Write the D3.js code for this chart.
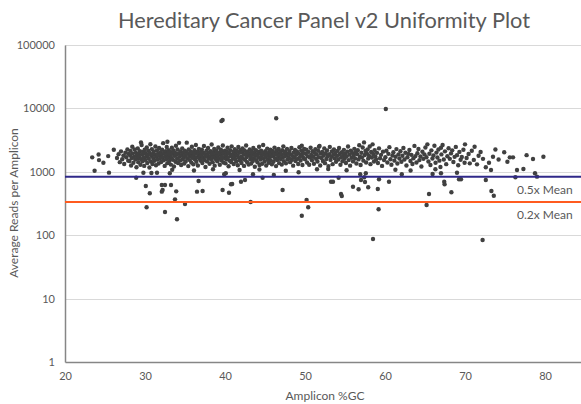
<!DOCTYPE html>
<html>
<head>
<meta charset="utf-8">
<script src="https://cdn.jsdelivr.net/npm/d3@7"></script>
<style>
	body { margin: 0; background: #fff; }
	svg { display: block; font-family: Lato, "Open Sans", sans-serif; }
</style>
</head>
<body>
<div id="chart"></div>
<script>

// GC% / average reads, left of the main band
var leftTail = [
	[23.4,1690],[23.7,1040],[24.2,1870],[24.25,1530],[24.8,1390],[25.4,1770],[25.5,970],[26.1,2230],
	[26.5,1650],[26.7,1900],[26.85,1420],[27.0,2100],[27.15,1580],[27.3,1800],[27.4,1330],[27.55,2000],
	[27.65,1700],[27.8,2250],[27.9,1500],[27.95,1920]
];

// dense band, 28 - 50 %GC
var coreBand = [
	[28.05,1480],[28.12,1820],[28.18,2140],[28.26,1260],[28.33,1650],[28.41,2480],[28.47,1950],[28.55,1390],[28.62,1720],[28.71,2260],[28.78,1560],[28.86,2010],[28.93,1180],[28.97,1840],
	[29.04,1620],[29.1,2330],[29.16,1420],[29.23,1930],[29.3,1710],[29.37,2120],[29.43,1290],[29.5,2900],[29.52,1580],[29.58,2640],[29.64,1870],[29.7,1470],[29.77,2060],[29.83,1680],[29.9,1240],[29.96,2230],
	[30.03,1540],[30.09,1960],[30.15,1750],[30.22,2420],[30.28,1380],[30.35,1830],[30.41,2150],[30.48,1610],[30.55,1170],[30.6,1990],[30.67,2720],[30.74,1450],[30.8,1780],[30.86,2280],[30.93,1330],[30.98,1900],
	[31.05,1640],[31.11,2090],[31.18,1490],[31.24,1850],[31.3,2510],[31.37,1270],[31.43,1720],[31.5,2180],[31.56,1560],[31.63,1940],[31.7,1350],[31.76,2370],[31.82,1800],[31.88,1620],[31.95,2040],
	[32.02,1430],[32.08,1880],[32.14,2230],[32.2,1690],[32.27,2830],[32.33,1520],[32.4,1980],[32.46,1240],[32.53,1760],[32.6,2110],[32.66,1590],[32.72,2460],[32.79,1370],[32.8,2980],[32.85,1910],[32.92,1700],[32.97,2200],
	[33.04,1480],[33.1,1830],[33.17,2060],[33.23,1300],[33.3,1650],[33.36,2390],[33.4,1080],[33.42,1920],[33.49,1550],[33.56,2170],[33.62,1210],[33.68,1780],[33.75,2000],[33.81,1440],[33.87,2580],[33.94,1860],
	[34.01,1610],[34.07,2250],[34.13,1380],[34.2,1950],[34.26,2860],[34.33,1720],[34.39,1500],[34.45,2100],[34.52,1280],[34.58,1840],[34.65,2340],[34.71,1570],[34.78,1990],[34.84,1690],[34.9,1350],[34.96,2150],
	[35.03,1800],[35.09,1460],[35.16,2050],[35.22,2880],[35.28,1620],[35.35,1930],[35.41,1230],[35.47,2260],[35.54,1740],[35.6,1530],[35.66,2120],[35.73,1870],[35.79,1400],[35.86,2480],[35.92,1660],[35.98,1980],
	[36.04,1310],[36.1,1790],[36.12,1050],[36.17,2190],[36.23,1580],[36.3,1950],[36.36,2650],[36.42,1440],[36.49,1700],[36.55,2080],[36.61,1260],[36.68,1890],[36.74,2300],[36.8,1610],[36.87,1770],[36.93,2030],[36.98,1490],
	[37.05,1830],[37.11,2240],[37.17,1380],[37.24,1670],[37.3,2000],[37.37,2550],[37.43,1540],[37.5,1900],[37.56,1190],[37.62,1750],[37.69,2150],[37.75,1460],[37.81,1850],[37.88,2380],[37.94,1640],
	[38.01,1990],[38.07,1340],[38.13,1720],[38.2,2110],[38.26,1560],[38.33,2700],[38.39,1870],[38.46,1420],[38.5,1100],[38.52,2040],[38.58,1680],[38.65,2290],[38.71,1250],[38.77,1810],[38.84,1590],[38.9,2180],[38.96,1950],
	[39.03,1470],[39.09,1760],[39.16,2420],[39.22,1630],[39.28,2010],[39.35,1290],[39.41,1880],[39.48,2230],[39.54,1520],[39.6,1710],[39.67,2090],[39.73,2600],[39.8,1400],[39.86,1930],[39.93,1650],
	[40.0,2160],[40.06,1360],[40.13,1820],[40.19,1570],[40.25,2050],[40.32,2390],[40.38,1690],[40.45,1220],[40.51,1960],[40.58,1500],[40.64,2200],[40.7,1780],[40.77,1430],[40.83,2520],[40.9,1860],[40.96,1610],
	[41.03,2070],[41.09,1330],[41.15,1740],[41.22,2280],[41.28,1590],[41.35,1940],[41.41,1450],[41.48,2130],[41.54,1800],[41.6,1270],[41.67,2460],[41.73,1660],[41.8,1990],[41.82,1070],[41.86,1510],[41.93,2190],
	[42.0,1730],[42.06,1380],[42.12,2040],[42.19,2330],[42.25,1600],[42.32,1850],[42.38,1240],[42.45,2170],[42.51,1540],[42.57,1920],[42.64,2600],[42.7,1700],[42.77,1420],[42.83,2080],[42.9,1820],[42.96,1300],
	[43.03,1950],[43.09,2250],[43.16,1570],[43.22,1760],[43.28,1350],[43.35,2120],[43.41,1880],[43.48,1480],[43.54,2380],[43.6,1640],[43.67,2010],[43.73,1200],[43.8,1790],[43.86,2200],[43.93,1530],
	[44.0,1860],[44.06,1410],[44.13,2070],[44.19,1690],[44.26,2490],[44.3,1090],[44.32,1280],[44.38,1920],[44.45,1560],[44.51,2160],[44.58,1770],[44.64,1340],[44.7,2010],[44.77,2650],[44.83,1620],[44.9,1880],[44.96,1450],
	[45.03,2110],[45.09,1720],[45.15,1260],[45.22,1960],[45.28,2320],[45.35,1580],[45.41,1830],[45.48,1390],[45.54,2050],[45.6,1680],[45.67,2240],[45.73,1500],[45.8,1900],[45.86,1310],[45.93,2130],
	[46.0,1750],[46.06,1440],[46.13,2000],[46.19,2410],[46.26,1620],[46.32,1870],[46.38,1230],[46.45,2180],[46.51,1530],[46.58,1960],[46.64,1710],[46.7,2290],[46.77,1370],[46.83,1840],[46.9,2060],[46.96,1590],
	[47.03,1890],[47.1,1300],[47.16,2200],[47.23,1680],[47.29,2520],[47.36,1470],[47.42,1980],[47.49,1750],[47.55,2090],[47.6,1040],[47.62,1360],[47.68,1820],[47.75,2300],[47.81,1560],[47.88,1930],
	[48.0,1650],[48.07,2120],[48.14,1420],[48.22,1880],[48.3,2380],[48.37,1540],[48.45,1770],[48.52,1250],[48.6,2020],[48.67,1690],[48.75,2210],[48.82,1480],[48.9,1850],
	[49.0,2090],[49.08,1600],[49.15,1330],[49.23,1950],[49.3,2450],[49.38,1720],[49.45,1510],[49.53,2180],[49.6,2580],[49.62,1840],[49.68,1280],[49.75,2010],[49.83,1650],[49.9,2290]
];

// band, 50 - 70 %GC
var midBand = [
	[50.0,1580],[50.09,1920],[50.17,2230],[50.26,1400],[50.35,1760],[50.44,2060],[50.52,1290],[50.61,1680],[50.7,2400],[50.78,1850],[50.87,1520],[50.95,2110],
	[51.04,1730],[51.12,1340],[51.21,1990],[51.3,2280],[51.38,1610],[51.47,1880],[51.5,1100],[51.56,1450],[51.64,2150],[51.73,1700],[51.75,2490],[51.82,2560],[51.9,1260],[51.98,1940],
	[52.07,1650],[52.15,2050],[52.24,1480],[52.33,1810],[52.41,2340],[52.5,1370],[52.58,1970],[52.67,1590],[52.76,2180],[52.84,1760],[52.93,1230],
	[53.02,1900],[53.1,2470],[53.19,1540],[53.28,1720],[53.36,2090],[53.45,1320],[53.54,1860],[53.62,2250],[53.71,1630],[53.8,1980],[53.88,1440],
	[54.0,1780],[54.08,2140],[54.17,1560],[54.26,2370],[54.34,1910],[54.43,1290],[54.52,1690],[54.6,2030],[54.69,1470],[54.78,1830],[54.86,2220],[54.95,1610],
	[55.03,1950],[55.12,1380],[55.2,1060],[55.21,1740],[55.3,2080],[55.38,2500],[55.47,1530],[55.56,1870],[55.64,1250],[55.73,2160],[55.82,1670],[55.9,1990],
	[56.0,1460],[56.08,1800],[56.17,2300],[56.26,1620],[56.34,2040],[56.43,1350],[56.52,1900],[56.6,2190],[56.69,1570],[56.78,2620],[56.86,1730],[56.95,1280],
	[57.04,2000],[57.12,1690],[57.21,2420],[57.3,1500],[57.38,2910],[57.47,1840],[57.56,2130],[57.64,1400],[57.73,1960],[57.82,2260],[57.9,1620],
	[58.0,1790],[58.09,2510],[58.18,1320],[58.27,2050],[58.36,1680],[58.45,2710],[58.53,1910],[58.62,1450],[58.71,2200],[58.8,1740],[58.89,1560],
	[59.0,1990],[59.12,1380],[59.25,2340],[59.38,1640],[59.5,1850],[59.63,1240],[59.75,2080],[59.88,1530],
	[60.05,1700],[60.18,2150],[60.3,1400],[60.43,1920],[60.55,2450],[60.68,1580],[60.8,1290],[60.93,1810],
	[61.05,2030],[61.18,1500],[61.3,1080],[61.32,1730],[61.43,2280],[61.55,1350],[61.68,1880],[61.8,1620],[61.93,2110],
	[62.05,1440],[62.18,1790],[62.3,2380],[62.43,1560],[62.55,2000],[62.68,1260],[62.8,1700],[62.93,1920],
	[63.05,2210],[63.18,1480],[63.2,1050],[63.3,1850],[63.43,1330],[63.55,1640],[63.68,2560],[63.8,1770],[63.93,1400],
	[64.05,1960],[64.18,2290],[64.3,1530],[64.43,1740],[64.55,1210],[64.68,2070],[64.8,1600],[64.93,1880],
	[65.05,2420],[65.18,1700],[65.3,2710],[65.43,1450],[65.55,1930],[65.68,1280],[65.8,2180],[65.93,1620],
	[66.05,1810],[66.18,2580],[66.3,1100],[66.32,1390],[66.43,2010],[66.55,1680],[66.68,2250],[66.8,1500],[66.93,1190],
	[67.0,2400],[67.05,1880],[67.2,2640],[67.35,1560],[67.5,2100],[67.65,1320],[67.8,1760],[67.95,2350],
	[68.1,1600],[68.25,1950],[68.4,2180],[68.55,1430],[68.7,1720],[68.85,2470],
	[69.0,1830],[69.15,1270],[69.3,2060],[69.45,1550],[69.6,1710],[69.8,2230],[69.95,1390]
];

// sparse right end
var rightTail = [
	[70.0,2710],[70.2,1650],[70.45,1910],[70.6,1360],[70.85,2150],[71.1,1540],[71.2,2490],[71.5,1310],
	[71.7,1790],[71.95,2050],[72.25,1600],[72.6,1180],[73.0,1390],[73.5,1730],[73.8,2250],[74.2,1560],
	[74.9,2030],[75.3,1440],[75.6,1690],[76.0,1690],[77.7,1830],[78.5,1590],[79.8,1730]
];

// amplicons well below the band
var lowOutliers = [
	[28.9,807],[29.8,968],[30.1,597],[30.2,276],[30.6,458],[30.8,957],[31.5,968],[32.1,619],[32.2,516],[32.1,486],
	[32.5,619],[32.5,232],[33.1,947],[33.25,619],[33.75,368],[33.9,492],[34.0,178],[35.0,311],[36.5,486],[36.7,716],
	[37.2,498],[39.7,516],[39.9,913],[40.1,947],[40.5,468],[40.75,635],[40.9,642],[42.0,698],[42.5,742],[43.2,334],
	[43.5,913],[44.7,807],[46.1,890],[47.2,516],[49.2,982],[49.6,203],[50.2,359],[50.4,276],[52.9,1107],[53.25,698],
	[53.5,698],[54.2,807],[54.5,447],[54.6,415],[56.0,582],[56.7,531],[56.9,913],[57.0,742],[57.4,819],[57.5,690],
	[57.6,947],[57.9,570],[58.5,87],[59.1,536],[59.2,256],[59.25,763],[60.5,698],[62.1,913],[65.2,299],[65.5,447],
	[65.95,923],[67.0,947],[67.4,698],[67.45,635],[68.3,475],[69.0,968],[69.25,763],[69.5,763],[72.2,84],[72.6,742],
	[73.25,1068],[73.3,498],[73.6,420],[76.3,819],[76.5,1068],[77.3,1107],[78.75,947],[79.0,838]
];

// amplicons far above the band
var highOutliers = [[39.55,6300],[39.7,6560],[46.4,6980],[60.1,9780]];

var xTicks = [20, 30, 40, 50, 60, 70, 80];
var yTicks = [1, 10, 100, 1000, 10000, 100000];

// thresholds (mean ~1670 reads)
var thresholds = [
	{ label: "0.5x Mean", value: 835, color: "#2f2889" },
	{ label: "0.2x Mean", value: 334, color: "#ff5b1f" }
];

var width = 581,
	height = 404,
	gray = "#595959";

var amplicons = leftTail.concat(coreBand, midBand, rightTail, lowOutliers, highOutliers);

// plot area runs past the right edge of the picture, as in the original
var x = d3.scaleLinear().domain([20, 90]).range([65, 625]);
var y = d3.scaleLog().domain([1, 100000]).range([362, 45]);

var svg = d3.select("#chart")
	.append("svg")
	.attr("width", width)
	.attr("height", height);

// title
svg.append("text")
	.attr("x", 324)
	.attr("y", 28)
	.attr("text-anchor", "middle")
	.attr("textLength", 412)
	.attr("lengthAdjust", "spacingAndGlyphs")
	.style("font-size", "20.5px")
	.style("fill", gray)
	.text("Hereditary Cancer Panel v2 Uniformity Plot");

// gridlines
svg.append("g")
	.selectAll("line")
	.data(yTicks.slice(1))
	.enter()
	.append("line")
	.attr("x1", x(20))
	.attr("x2", width)
	.attr("y1", function (d) { return Math.round(y(d)) + 0.5 })
	.attr("y2", function (d) { return Math.round(y(d)) + 0.5 })
	.style("stroke", "#d9d9d9")
	.style("stroke-width", 1);

// axes
var yAxis = d3.axisLeft(y).tickValues(yTicks).tickSize(0).tickPadding(10).tickFormat(d3.format("d"));
var xAxis = d3.axisBottom(x).tickValues(xTicks).tickSize(0).tickPadding(10).tickFormat(d3.format("d"));

var gy = svg.append("g").attr("transform", "translate(" + x(20) + ",0)").call(yAxis);
var gx = svg.append("g").attr("transform", "translate(0," + y(1) + ")").call(xAxis);

[gx, gy].forEach(function (g) {
	g.select(".domain").style("stroke", "#868686").style("stroke-width", 1.5);
	g.selectAll("text").style("fill", gray).style("font-size", "11px").style("font-family", "Lato, sans-serif");
});

// axis titles
svg.append("text")
	.attr("x", 325)
	.attr("y", 400)
	.attr("text-anchor", "middle")
	.style("font-size", "12px")
	.style("fill", gray)
	.text("Amplicon %GC");

svg.append("text")
	.attr("transform", "translate(18,203) rotate(-90)")
	.attr("text-anchor", "middle")
	.style("font-size", "12px")
	.style("fill", gray)
	.text("Average Reads per Amplicon");

// points
svg.append("g")
	.selectAll("circle")
	.data(amplicons)
	.enter()
	.append("circle")
	.attr("cx", function (d) { return x(d[0]) })
	.attr("cy", function (d) { return y(d[1]) })
	.attr("r", 2.2)
	.style("fill", "#404040");

// threshold lines
svg.append("g")
	.selectAll("line")
	.data(thresholds)
	.enter()
	.append("line")
	.attr("x1", x(20))
	.attr("x2", width)
	.attr("y1", function (d) { return y(d.value) })
	.attr("y2", function (d) { return y(d.value) })
	.style("stroke", function (d) { return d.color })
	.style("stroke-width", 2);

svg.append("g")
	.selectAll("text")
	.data(thresholds)
	.enter()
	.append("text")
	.attr("x", 517)
	.attr("y", function (d) { return y(d.value) + 17 })
	.style("font-size", "12px")
	.style("fill", gray)
	.text(function (d) { return d.label });

</script>
</body>
</html>
